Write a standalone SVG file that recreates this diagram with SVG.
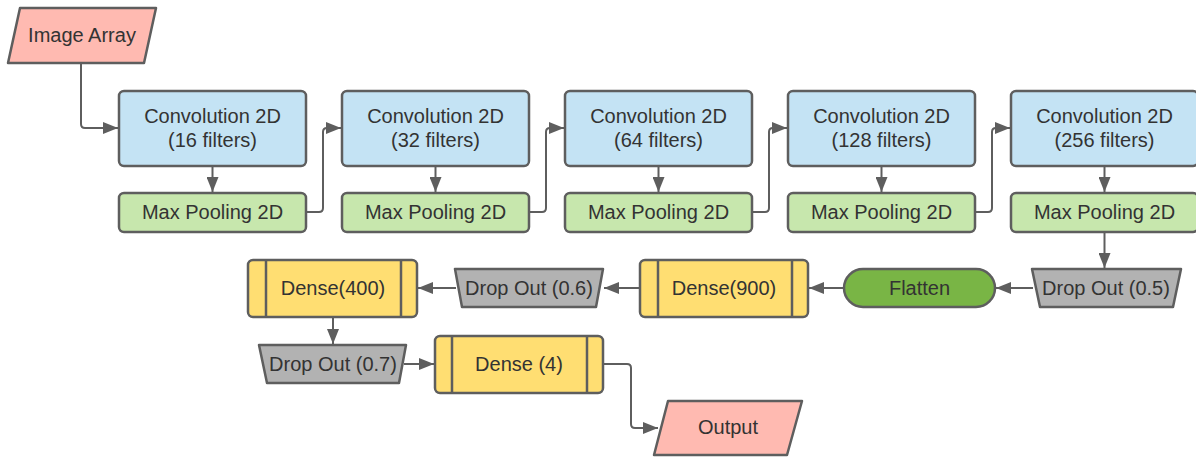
<svg xmlns="http://www.w3.org/2000/svg" width="1196" height="457" viewBox="0 0 1196 457">
<style>
.s{stroke:#5e5e5e;stroke-width:2.5;stroke-linejoin:round}
.conv{fill:#c4e3f4}
.pool{fill:#c7e7ad}
.dense{fill:#ffde72}
.drop{fill:#b2b2b2}
.io{fill:#ffbab1}
.flat{fill:#79b545}
.in{stroke:#5e5e5e;stroke-width:2.5;fill:none}
text{font-family:"Liberation Sans",Arial,sans-serif;font-size:20px;fill:#333;text-anchor:middle}
.c{fill:none;stroke:#5e5e5e;stroke-width:2;marker-end:url(#ah)}
</style>
<defs>
<marker id="ah" markerUnits="userSpaceOnUse" markerWidth="16" markerHeight="12" refX="15" refY="6" orient="auto">
<path d="M0,0 L15,6 L0,12 Z" fill="#5e5e5e"/>
</marker>
</defs>
<g id="connectors">
<path class="c" d="M81,63 V124 Q81,128 85,128 H118"/>
<path class="c" d="M212.5,166 V192"/>
<path class="c" d="M435.5,166 V192"/>
<path class="c" d="M658.5,166 V192"/>
<path class="c" d="M881.5,166 V192"/>
<path class="c" d="M1104.5,166 V192"/>
<path class="c" d="M306,212 H319 Q323,212 323,208 V132 Q323,128 327,128 H341"/>
<path class="c" d="M529,212 H542 Q546,212 546,208 V132 Q546,128 550,128 H564"/>
<path class="c" d="M752,212 H765 Q769,212 769,208 V132 Q769,128 773,128 H787"/>
<path class="c" d="M975,212 H988 Q992,212 992,208 V132 Q992,128 996,128 H1010"/>
<path class="c" d="M1104.5,232 V268"/>
<path class="c" d="M1033,288 H996"/>
<path class="c" d="M844,288 H809"/>
<path class="c" d="M640,288 H604"/>
<path class="c" d="M456,288 H418"/>
<path class="c" d="M333,317 V344"/>
<path class="c" d="M404,364 H434"/>
<path class="c" d="M603,364 H627 Q631,364 631,368 V424 Q631,428 635,428 H658"/>
</g>
<g id="image-array">
<path class="s io" d="M20,8 H156 L144,63 H8 Z"/>
<text x="82" y="42">Image Array</text>
</g>
<g id="conv1">
<rect class="s conv" x="119" y="91" width="187" height="75" rx="5"/>
<text x="212.5" y="123">Convolution 2D</text>
<text x="212.5" y="147">(16 filters)</text>
</g>
<g id="pool1">
<rect class="s pool" x="119" y="193" width="187" height="39" rx="5"/>
<text x="212.5" y="219">Max Pooling 2D</text>
</g>
<g id="conv2">
<rect class="s conv" x="342" y="91" width="187" height="75" rx="5"/>
<text x="435.5" y="123">Convolution 2D</text>
<text x="435.5" y="147">(32 filters)</text>
</g>
<g id="pool2">
<rect class="s pool" x="342" y="193" width="187" height="39" rx="5"/>
<text x="435.5" y="219">Max Pooling 2D</text>
</g>
<g id="conv3">
<rect class="s conv" x="565" y="91" width="187" height="75" rx="5"/>
<text x="658.5" y="123">Convolution 2D</text>
<text x="658.5" y="147">(64 filters)</text>
</g>
<g id="pool3">
<rect class="s pool" x="565" y="193" width="187" height="39" rx="5"/>
<text x="658.5" y="219">Max Pooling 2D</text>
</g>
<g id="conv4">
<rect class="s conv" x="788" y="91" width="187" height="75" rx="5"/>
<text x="881.5" y="123">Convolution 2D</text>
<text x="881.5" y="147">(128 filters)</text>
</g>
<g id="pool4">
<rect class="s pool" x="788" y="193" width="187" height="39" rx="5"/>
<text x="881.5" y="219">Max Pooling 2D</text>
</g>
<g id="conv5">
<rect class="s conv" x="1011" y="91" width="187" height="75" rx="5"/>
<text x="1104.5" y="123">Convolution 2D</text>
<text x="1104.5" y="147">(256 filters)</text>
</g>
<g id="pool5">
<rect class="s pool" x="1011" y="193" width="187" height="39" rx="5"/>
<text x="1104.5" y="219">Max Pooling 2D</text>
</g>
<g id="dropout05">
<path class="s drop" d="M1032,269 H1181 L1173,307 H1040 Z"/>
<text x="1106" y="295">Drop Out (0.5)</text>
</g>
<g id="flatten">
<rect class="s flat" x="844" y="269" width="151" height="38" rx="19"/>
<text x="919.5" y="295">Flatten</text>
</g>
<g id="dense900">
<rect class="s dense" x="640" y="260" width="168" height="57" rx="5"/>
<line class="in" x1="658" y1="260" x2="658" y2="317"/>
<line class="in" x1="792" y1="260" x2="792" y2="317"/>
<text x="724" y="295">Dense(900)</text>
</g>
<g id="dropout06">
<path class="s drop" d="M455,269 H603 L596,307 H462 Z"/>
<text x="529" y="295">Drop Out (0.6)</text>
</g>
<g id="dense400">
<rect class="s dense" x="248" y="260" width="169" height="57" rx="5"/>
<line class="in" x1="266" y1="260" x2="266" y2="317"/>
<line class="in" x1="401" y1="260" x2="401" y2="317"/>
<text x="333" y="295">Dense(400)</text>
</g>
<g id="dropout07">
<path class="s drop" d="M259,345 H406 L399,383 H267 Z"/>
<text x="333" y="371">Drop Out (0.7)</text>
</g>
<g id="dense4">
<rect class="s dense" x="435" y="336" width="168" height="57" rx="5"/>
<line class="in" x1="452" y1="336" x2="452" y2="393"/>
<line class="in" x1="587" y1="336" x2="587" y2="393"/>
<text x="519" y="371">Dense (4)</text>
</g>
<g id="output">
<path class="s io" d="M668,401 H802 L787,455 H654 Z"/>
<text x="728" y="434">Output</text>
</g>
</svg>
